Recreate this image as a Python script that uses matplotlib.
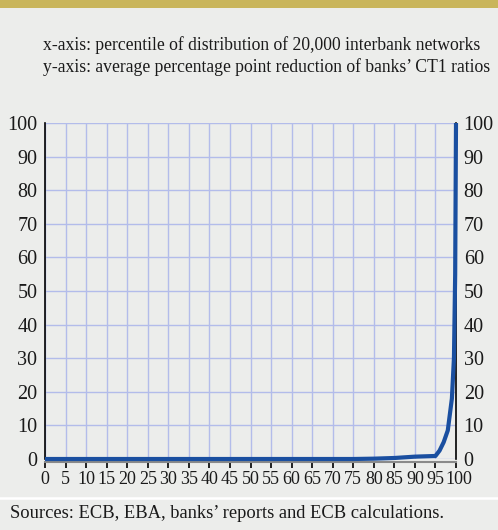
import matplotlib
matplotlib.use("Agg")
import matplotlib.pyplot as plt
import matplotlib.transforms as mtransforms
from matplotlib.lines import Line2D

percentiles = [0, 5, 10, 15, 20, 25, 30, 35, 40, 45, 50, 55, 60, 65, 70, 75, 80, 85, 90, 95, 96, 97, 98, 99, 99.5, 99.8, 100]
reduction = [0, 0, 0, 0, 0, 0, 0, 0, 0, 0, 0, 0, 0, 0, 0, 0, 0.1, 0.3, 0.7, 0.9, 2.5, 5.0, 8.5, 18, 30, 55, 100]
x_ticks = list(range(0, 101, 5))
y_ticks = list(range(0, 101, 10))

header_lines = ["x-axis: percentile of distribution of 20,000 interbank networks",
                "y-axis: average percentage point reduction of banks\u2019 CT1 ratios"]
source_text = "Sources: ECB, EBA, banks\u2019 reports and ECB calculations."

plt.rcParams['font.family'] = ['Liberation Serif', 'DejaVu Serif']

W, H = 498, 530
BG = '#ecedeb'
fig = plt.figure(figsize=(W / 100, H / 100), dpi=100, facecolor=BG)

# gold bar on top
fig.patches.append(plt.Rectangle((0, 1 - 7.5 / H), 1, 7.5 / H, transform=fig.transFigure,
                                 facecolor='#c9b55b', edgecolor='none'))
# white separator above footer
fig.lines.append(Line2D([0, 1], [1 - 498 / H, 1 - 498 / H], transform=fig.transFigure,
                        color='white', lw=1.8))

fig.text(43 / W, 1 - 45 / H, header_lines[0], fontsize=12.7, va='center', ha='left', color='#1a1a1a')
fig.text(43 / W, 1 - 67 / H, header_lines[1], fontsize=12.7, va='center', ha='left', color='#1a1a1a')
fig.text(10 / W, 1 - 514 / H, source_text, fontsize=13.3, va='center', ha='left', color='#1a1a1a')

left, right, top, bottom = 45, 456, 123, 459
ax = fig.add_axes([left / W, 1 - bottom / H, (right - left) / W, (bottom - top) / H])
ax.set_facecolor(BG)
ax.set_xlim(0, 100)
ax.set_ylim(0, 100)
ax.set_xticks(x_ticks)
ax.set_yticks(y_ticks)
ax.set_xticklabels([str(t) for t in x_ticks])
ax.set_yticklabels([str(t) for t in y_ticks])
ax.grid(True, color='#b3bcea', lw=1.0)
ax.set_axisbelow(True)

ax.spines['top'].set_visible(False)
ax.spines['left'].set_color('black')
ax.spines['left'].set_linewidth(1.2)
ax.spines['right'].set_color('black')
ax.spines['right'].set_linewidth(1.2)
ax.spines['bottom'].set_color('#8a8a8a')
ax.spines['bottom'].set_linewidth(1.5)
ax.spines['bottom'].set_position(('outward', 2))

ax.tick_params(axis='x', direction='out', length=4, width=1.2, color='black', pad=2.5,
               labelsize=13, labelcolor='#1a1a1a')
ax.tick_params(axis='y', length=0, pad=5.5, labelright=True, right=False,
               labelsize=14.5, labelcolor='#1a1a1a')

# nudge the last x label ("100") slightly right so it doesn't collide with "95"
last = ax.get_xticklabels()[-1]
last.set_transform(last.get_transform() + mtransforms.ScaledTranslation(3 / 100, 0, fig.dpi_scale_trans))

ax.plot(percentiles, reduction, color='#1a4fa0', lw=3.0, clip_on=False, solid_capstyle='butt', zorder=5)

fig.savefig('out.png', dpi=100, facecolor=BG)
